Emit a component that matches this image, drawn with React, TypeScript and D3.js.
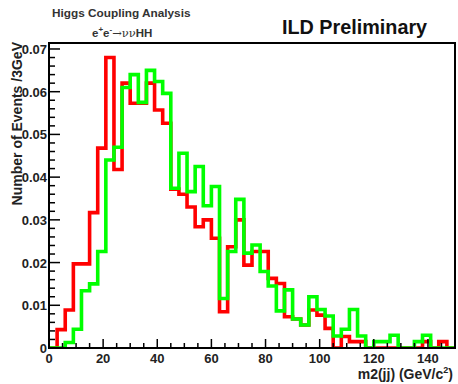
import { useEffect, useRef } from "react";
import * as d3 from "d3";

// 50 bins of 3 GeV, 0..150
const binEdges = d3.range(0, 153, 3);
const redValues = [
  0, 0.0043, 0.0089, 0.0197, 0.0197, 0.0317, 0.0468, 0.068, 0.0418, 0.062,
  0.0573, 0.0573, 0.062, 0.0557, 0.0526, 0.0372, 0.036, 0.033, 0.0284, 0.03,
  0.0257, 0.0085, 0.0237, 0.03, 0.0194, 0.0226, 0.0226, 0.0163, 0.0151, 0.0073,
  0.0068, 0.0054, 0.0089, 0.0077, 0.0046, 0, 0.0027, 0.0015, 0.0015, 0,
  0, 0, 0, 0, 0, 0, 0.0015, 0, 0.0015, 0,
];
const greenValues = [
  0, 0, 0.0013, 0.0044, 0.0134, 0.015, 0.0226, 0.044, 0.047, 0.061,
  0.064, 0.0575, 0.065, 0.0624, 0.0596, 0.0374, 0.0456, 0.0366, 0.0425, 0.0333,
  0.0378, 0.0116, 0.0226, 0.0348, 0.0222, 0.0241, 0.0179, 0.0145, 0.0087, 0.0136,
  0.0068, 0.0054, 0.012, 0.009, 0.0075, 0.0028, 0.0044, 0.009, 0.0028, 0,
  0.0015, 0.0015, 0.003, 0, 0, 0.0015, 0.003, 0, 0, 0,
];
const xTickLabels = [0, 20, 40, 60, 80, 100, 120, 140];
const yTickLabels = [0, 0.01, 0.02, 0.03, 0.04, 0.05, 0.06, 0.07];

const FONT = "'Liberation Sans', Arial, Helvetica, sans-serif";

export default function App() {
  const ref = useRef<SVGSVGElement>(null);

  useEffect(() => {
    if (!ref.current) return;
    const svg = d3.select(ref.current);
    svg.selectAll("*").remove();

    const left = 49, right = 455, top = 43, bottom = 348;
    const x = d3.scaleLinear().domain([0, 150]).range([left, right]);
    const y = d3.scaleLinear().domain([0, 0.0714]).range([bottom, top]);

    svg.append("defs").append("clipPath").attr("id", "frameClip")
      .append("rect")
      .attr("x", left).attr("y", top - 2)
      .attr("width", right - left).attr("height", bottom - top + 2);

    // step outline like ROOT's histogram drawing
    const stepPath = (vals: number[]) => {
      const pts: [number, number][] = [[x(0), y(0)]];
      vals.forEach((v, i) => {
        pts.push([x(binEdges[i]), y(v)]);
        pts.push([x(binEdges[i + 1]), y(v)]);
      });
      pts.push([x(150), y(0)]);
      return d3.line()(pts);
    };

    const hist = svg.append("g").attr("clip-path", "url(#frameClip)");
    hist.append("path")
      .attr("d", stepPath(redValues))
      .attr("fill", "none").attr("stroke", "#ff0000")
      .attr("stroke-width", 3.6).attr("stroke-linejoin", "miter");
    hist.append("path")
      .attr("d", stepPath(greenValues))
      .attr("fill", "none").attr("stroke", "#00ff00")
      .attr("stroke-width", 3.6).attr("stroke-linejoin", "miter");

    // ticks, pointing inward
    const ticks = svg.append("g").attr("stroke", "#000").attr("stroke-width", 1.5);
    d3.range(0, 151, 5).forEach((t) => {
      const len = t % 20 === 0 ? 9 : 5;
      ticks.append("line")
        .attr("x1", x(t)).attr("x2", x(t))
        .attr("y1", bottom).attr("y2", bottom - len);
    });
    d3.range(0, 36).forEach((i) => {
      const v = i * 0.002;
      if (y(v) < top) return;
      const len = i % 5 === 0 ? 11 : 6;
      ticks.append("line")
        .attr("x1", left).attr("x2", left + len)
        .attr("y1", y(v)).attr("y2", y(v));
    });

    // frame
    svg.append("rect")
      .attr("x", left).attr("y", top)
      .attr("width", right - left).attr("height", bottom - top)
      .attr("fill", "none").attr("stroke", "#000").attr("stroke-width", 2);

    // tick labels
    svg.append("g").selectAll("text")
      .data(xTickLabels)
      .join("text")
      .attr("x", (d) => x(d))
      .attr("y", bottom + 15)
      .attr("text-anchor", "middle")
      .attr("font-family", FONT).attr("font-weight", "bold").attr("font-size", 13)
      .attr("fill", "#222")
      .text((d) => String(d));

    svg.append("g").selectAll("text")
      .data(yTickLabels)
      .join("text")
      .attr("x", left - 2)
      .attr("y", (d) => y(d) + 5)
      .attr("text-anchor", "end")
      .attr("font-family", FONT).attr("font-weight", "bold").attr("font-size", 13)
      .attr("fill", "#222")
      .text((d) => (d === 0 ? "0" : d.toFixed(2)));

    // axis titles
    svg.append("text")
      .attr("transform", "translate(22,42) rotate(-90)")
      .attr("text-anchor", "end")
      .attr("font-family", FONT).attr("font-weight", "bold").attr("font-size", 14)
      .attr("fill", "#222")
      .text("Number of Events /3GeV");

    const xt = svg.append("text")
      .attr("x", 453).attr("y", 379)
      .attr("text-anchor", "end")
      .attr("font-family", FONT).attr("font-weight", "bold").attr("font-size", 14)
      .attr("fill", "#222");
    xt.append("tspan").text("m2(jj) (GeV/c");
    xt.append("tspan").attr("dy", -6).attr("font-size", 9).text("2");
    xt.append("tspan").attr("dy", 6).text(")");

    // header texts
    svg.append("text")
      .attr("x", 52).attr("y", 17)
      .attr("font-family", FONT).attr("font-weight", "bold").attr("font-size", 11.8)
      .attr("fill", "#333")
      .text("Higgs Coupling Analysis");

    const proc = svg.append("text")
      .attr("x", 92).attr("y", 37)
      .attr("font-family", FONT).attr("font-weight", "bold").attr("font-size", 11.5)
      .attr("fill", "#333");
    proc.append("tspan").text("e");
    proc.append("tspan").attr("dy", -5).attr("font-size", 8).text("+");
    proc.append("tspan").attr("dy", 5).text("e");
    proc.append("tspan").attr("dy", -5).attr("font-size", 8).text("-");
    proc.append("tspan").attr("dy", 5).attr("font-weight", "normal").attr("font-family", "'DejaVu Serif', serif").text("→νν");
    proc.append("tspan").text("HH");

    svg.append("text")
      .attr("x", 282).attr("y", 34)
      .attr("font-family", FONT).attr("font-weight", "bold").attr("font-size", 19.8)
      .attr("fill", "#111")
      .text("ILD Preliminary");
  }, []);

  return (
    <svg
      ref={ref}
      width={458}
      height={384}
      style={{ position: "absolute", left: 0, top: 0, background: "#fff" }}
    />
  );
}
